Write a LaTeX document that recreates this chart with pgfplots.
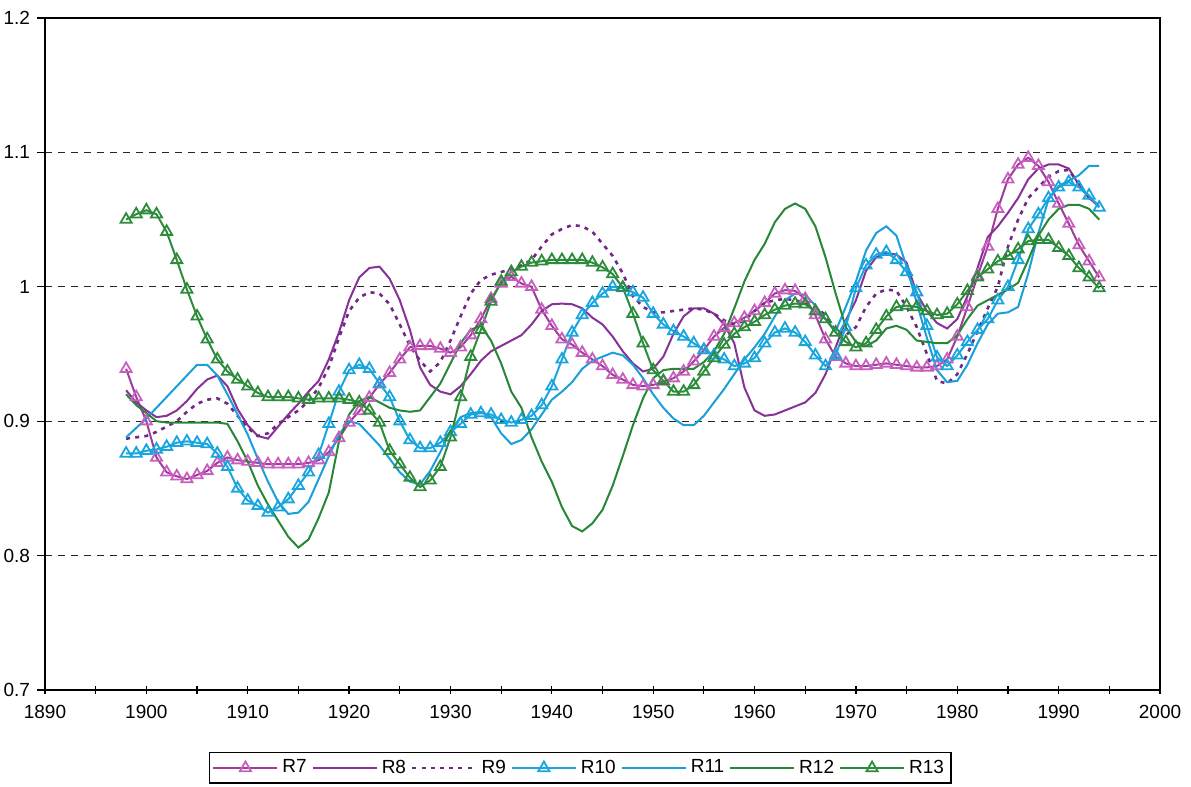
\documentclass[border=0pt]{standalone}
\usepackage{pgfplots}
\pgfplotsset{compat=1.18}
\usepackage{pgfplotstable}
\usepackage{fontspec}
\setmainfont{Liberation Sans}
\definecolor{cR7}{RGB}{160,60,155}
\definecolor{cR7m}{RGB}{200,95,190}
\definecolor{cR8}{RGB}{135,50,150}
\definecolor{cR9}{RGB}{115,40,135}
\definecolor{cR10}{RGB}{25,165,222}
\definecolor{cR11}{RGB}{25,160,218}
\definecolor{cR12}{RGB}{40,135,55}
\definecolor{cR13}{RGB}{45,140,60}

\pgfplotstableread{
year R7 R8 R9 R10 R11 R12 R13
1898 0.939 0.923 0.887 0.876 0.888 0.920 1.050
1899 0.918 0.914 0.888 0.876 0.895 0.912 1.054
1900 0.900 0.908 0.889 0.878 0.902 0.906 1.057
1901 0.873 0.903 0.892 0.879 0.910 0.900 1.054
1902 0.862 0.904 0.896 0.881 0.918 0.899 1.041
1903 0.859 0.908 0.900 0.884 0.926 0.899 1.020
1904 0.857 0.915 0.907 0.885 0.934 0.899 0.998
1905 0.860 0.924 0.913 0.884 0.942 0.899 0.978
1906 0.863 0.931 0.916 0.883 0.942 0.899 0.961
1907 0.869 0.934 0.917 0.876 0.934 0.899 0.946
1908 0.873 0.926 0.913 0.866 0.920 0.898 0.937
1909 0.871 0.909 0.904 0.850 0.905 0.885 0.931
1910 0.870 0.897 0.895 0.841 0.890 0.870 0.926
1911 0.869 0.889 0.889 0.837 0.872 0.852 0.921
1912 0.868 0.887 0.891 0.832 0.855 0.838 0.918
1913 0.868 0.896 0.898 0.836 0.840 0.826 0.918
1914 0.868 0.905 0.903 0.842 0.831 0.814 0.918
1915 0.868 0.913 0.908 0.852 0.832 0.806 0.917
1916 0.869 0.922 0.915 0.862 0.840 0.812 0.916
1917 0.871 0.930 0.925 0.875 0.857 0.828 0.917
1918 0.877 0.946 0.940 0.898 0.874 0.847 0.917
1919 0.8875 0.966 0.962 0.922 0.890 0.885 0.917
1920 0.899 0.990 0.982 0.938 0.900 0.905 0.916
1921 0.9075 1.007 0.992 0.942 0.898 0.915 0.914
1922 0.9175 1.014 0.996 0.939 0.890 0.918 0.908
1923 0.9275 1.015 0.995 0.928 0.882 0.914 0.899
1924 0.936 1.006 0.987 0.918 0.872 0.910 0.878
1925 0.946 0.990 0.972 0.900 0.862 0.908 0.868
1926 0.955 0.968 0.956 0.886 0.855 0.907 0.858
1927 0.956 0.940 0.945 0.880 0.853 0.908 0.851
1928 0.956 0.927 0.937 0.880 0.863 0.918 0.856
1929 0.954 0.922 0.944 0.884 0.877 0.928 0.866
1930 0.951 0.920 0.960 0.892 0.893 0.943 0.888
1931 0.955 0.926 0.978 0.898 0.903 0.958 0.918
1932 0.964 0.935 0.995 0.905 0.906 0.968 0.948
1933 0.976 0.945 1.005 0.906 0.907 0.971 0.968
1934 0.991 0.952 1.009 0.905 0.903 0.960 0.989
1935 1.0025 0.956 1.011 0.901 0.891 0.943 1.004
1936 1.0075 0.960 1.013 0.899 0.883 0.922 1.011
1937 1.0025 0.964 1.016 0.901 0.886 0.910 1.015
1938 1.000 0.972 1.020 0.904 0.894 0.888 1.018
1939 0.983 0.982 1.030 0.912 0.905 0.870 1.019
1940 0.971 0.987 1.039 0.926 0.916 0.855 1.020
1941 0.961 0.9875 1.043 0.946 0.922 0.836 1.020
1942 0.957 0.987 1.046 0.966 0.929 0.822 1.020
1943 0.951 0.984 1.045 0.979 0.939 0.818 1.020
1944 0.946 0.977 1.041 0.988 0.945 0.824 1.018
1945 0.941 0.972 1.032 0.995 0.948 0.834 1.0145
1946 0.9345 0.963 1.023 1.000 0.951 0.852 1.0095
1947 0.931 0.952 1.010 0.999 0.949 0.874 0.9995
1948 0.927 0.943 0.993 0.996 0.942 0.897 0.980
1949 0.926 0.937 0.985 0.992 0.932 0.917 0.958
1950 0.927 0.939 0.981 0.980 0.920 0.932 0.938
1951 0.9295 0.948 0.981 0.972 0.910 0.938 0.930
1952 0.932 0.965 0.982 0.967 0.902 0.939 0.922
1953 0.937 0.978 0.983 0.963 0.897 0.939 0.922
1954 0.9445 0.984 0.984 0.958 0.897 0.939 0.927
1955 0.953 0.984 0.983 0.953 0.904 0.944 0.937
1956 0.963 0.980 0.980 0.949 0.914 0.952 0.947
1957 0.9695 0.972 0.975 0.946 0.924 0.965 0.957
1958 0.973 0.958 0.972 0.941 0.935 0.984 0.965
1959 0.977 0.925 0.975 0.943 0.946 1.004 0.970
1960 0.982 0.908 0.982 0.947 0.955 1.020 0.974
1961 0.988 0.904 0.988 0.958 0.965 1.032 0.979
1962 0.995 0.905 0.990 0.966 0.978 1.048 0.983
1963 0.9975 0.908 0.991 0.969 0.990 1.058 0.986
1964 0.997 0.911 0.990 0.966 0.995 1.062 0.9875
1965 0.991 0.914 0.988 0.959 0.994 1.058 0.987
1966 0.979 0.921 0.985 0.949 0.986 1.045 0.982
1967 0.961 0.935 0.979 0.941 0.976 1.022 0.976
1968 0.948 0.955 0.967 0.949 0.967 0.995 0.966
1969 0.943 0.975 0.964 0.970 0.985 0.970 0.959
1970 0.941 0.990 0.970 0.999 1.004 0.959 0.955
1971 0.941 1.012 0.985 1.016 1.027 0.956 0.958
1972 0.942 1.022 0.995 1.024 1.040 0.960 0.968
1973 0.943 1.025 0.998 1.026 1.045 0.969 0.978
1974 0.942 1.024 0.997 1.020 1.038 0.971 0.985
1975 0.941 1.018 0.985 1.011 1.015 0.968 0.986
1976 0.940 0.995 0.970 0.996 0.988 0.960 0.985
1977 0.940 0.982 0.950 0.971 0.962 0.959 0.982
1978 0.941 0.973 0.930 0.9475 0.938 0.958 0.979
1979 0.946 0.969 0.928 0.941 0.929 0.958 0.980
1980 0.963 0.976 0.935 0.949 0.930 0.964 0.987
1981 0.985 0.993 0.950 0.959 0.942 0.976 0.997
1982 1.008 1.014 0.967 0.968 0.958 0.986 1.007
1983 1.030 1.037 0.984 0.976 0.972 0.990 1.013
1984 1.058 1.045 1.000 0.990 0.980 0.994 1.019
1985 1.080 1.055 1.030 1.000 0.981 0.998 1.023
1986 1.091 1.066 1.050 1.020 0.985 1.003 1.028
1987 1.096 1.080 1.066 1.043 1.010 1.020 1.034
1988 1.090 1.088 1.074 1.054 1.040 1.038 1.035
1989 1.078 1.091 1.082 1.066 1.065 1.050 1.035
1990 1.062 1.091 1.086 1.074 1.075 1.058 1.029
1991 1.047 1.088 1.087 1.078 1.079 1.061 1.023
1992 1.031 1.076 1.076 1.074 1.083 1.061 1.014
1993 1.019 1.066 1.066 1.068 1.090 1.058 1.007
1994 1.007 1.060 1.060 1.059 1.090 1.050 0.999
}\data

\begin{document}
\begin{tikzpicture}
\begin{axis}[
  scale only axis, width=557.5pt, height=336pt,
  xmin=1890, xmax=2000, ymin=0.7, ymax=1.2,
  xtick={1890,1900,...,2000},
  minor xtick={1895,1905,...,1995},
  ytick={0.7,0.8,0.9,1,1.1,1.2},
  xtick pos=bottom, ytick pos=left,
  xtick align=center, ytick align=outside,
  major tick length=4pt, minor tick length=4pt,
  ymajorgrids,
  major grid style={black!85, dash pattern=on 3.5pt off 3pt, line width=0.6pt},
  axis line style={line width=0.9pt},
  tick style={black, line width=0.6pt},
  ticklabel style={font=\fontsize{9.5}{11}\selectfont},
  /pgf/number format/assume math mode=true,
  xticklabel style={/pgf/number format/1000 sep={}, yshift=-2pt},
  legend columns=7,
  legend style={at={(0.48,-0.116)}, anchor=center, draw=black, line width=0.6pt,
    font=\fontsize{9.5}{11}\selectfont, inner sep=1.5pt,
    /tikz/every even column/.append style={column sep=0.5pt}},
  legend image code/.code={\draw[mark repeat=2,mark phase=2] plot coordinates {(0pt,0pt) (16pt,0pt) (32pt,0pt)};},
  every axis plot/.append style={line width=1pt},
]
\addplot[color=cR7, mark=triangle, mark size=3.2pt, mark options={draw=cR7m, fill=white, solid, line width=0.9pt}] table[x=year,y=R7]{\data};
\addlegendentry{R7}
\addplot[color=cR8, no marks] table[x=year,y=R8]{\data};
\addlegendentry{R8}
\addplot[color=cR9, no marks, line width=1.3pt, dash pattern=on 2pt off 2.6pt] table[x=year,y=R9]{\data};
\addlegendentry{R9}
\addplot[color=cR10, mark=triangle, mark size=3.2pt, mark options={fill=white, solid, line width=0.9pt}] table[x=year,y=R10]{\data};
\addlegendentry{R10}
\addplot[color=cR11, no marks] table[x=year,y=R11]{\data};
\addlegendentry{R11}
\addplot[color=cR12, no marks] table[x=year,y=R12]{\data};
\addlegendentry{R12}
\addplot[color=cR13, mark=triangle, mark size=3.2pt, mark options={fill=white, solid, line width=0.9pt}] table[x=year,y=R13]{\data};
\addlegendentry{R13}
\end{axis}
\pgfresetboundingbox
\path[use as bounding box] ([xshift=-22.5pt,yshift=-48pt]current axis.south west) rectangle ([xshift=15.5pt,yshift=9pt]current axis.north east);
\end{tikzpicture}
\end{document}
